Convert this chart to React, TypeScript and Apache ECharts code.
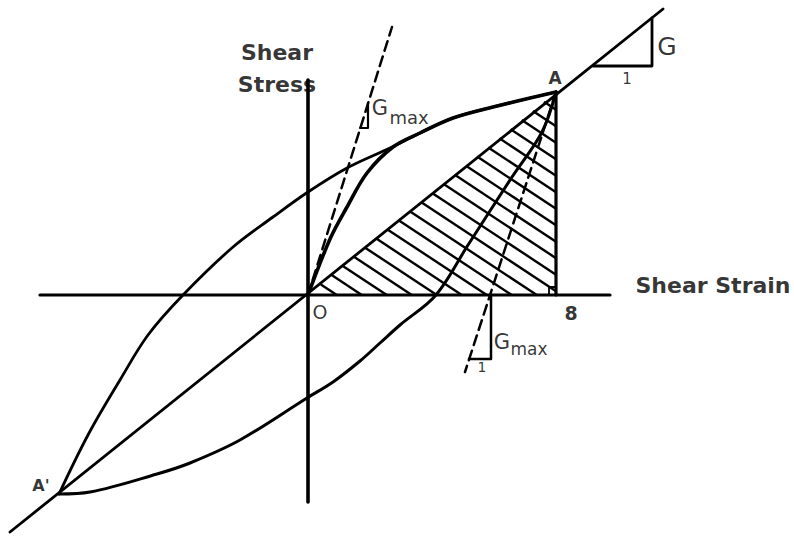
import React, { useEffect, useRef } from "react";
import * as echarts from "echarts";

// ---- data (strain, stress) in drawing units, origin O at (0,0) ----
const origin: number[] = [0, 0];
const pointA: number[] = [248, 203];
const pointA2: number[] = [-249, -199];
const strainAxis: number[][] = [[-268, 0], [302, 0]];
const stressAxis: number[][] = [[0, 215], [0, -207]];
const secantLine: number[][] = [[-298, -237], [355, 286]];
const upperBranch: number[][] = [
  [-249, -199], [-220, -140], [-188, -85], [-160, -40], [-125, 0], [-75, 48],
  [-35, 78], [0, 103], [39, 127], [82, 147], [112, 162], [145, 177], [185, 188], [248, 203],
];
const lowerBranch: number[][] = [
  [248, 203], [234, 163], [204, 118], [160, 50], [128, 0], [92, -30], [72, -48],
  [52, -66], [25, -87], [-1, -103], [-68, -145], [-118, -168], [-151, -179], [-218, -197], [-249, -199],
];
const backbone: number[][] = [
  [0, 0], [22, 56], [39, 88], [59, 122], [85, 148], [112, 162], [145, 177], [185, 188], [248, 203],
];
const gmaxTangentO: number[][] = [[0, 0], [84, 268]];
const gmaxTangentA: number[][] = [[248, 203], [157, -77]];
const gmaxStepO: number[][] = [[52, 167], [60, 167], [60, 192]];
const gmaxStepA: number[][] = [[161, -64], [183, -64], [183, 0]];
const gStep: number[][] = [[285, 229], [344, 229], [344, 277]];
const dropLine: number[][] = [[248, 203], [248, 0]];
const rightAngle: number[][] = [[241, 0], [241, 8], [248, 8]];
const hatchArea: number[][] = [origin, pointA, [248, 0]];

const labelTexts: string[] = [
  "Shear", "Stress", "Shear Strain", "A", "A'", "O", "8", "G", "1", "G", "max", "G", "max", "1",
];
// layout of the annotations (anchor points in drawing units, font sizes, weights)
const labelAnchors: number[][] = [
  [-31, 243], [-31, 211], [405, 10], [247, 217], [-267, -190], [12, -17], [263, -18],
  [359, 249], [319, 216], [72, 187], [101, 178], [194, -47], [221, -54], [174, -72],
];
const labelFontSizes: number[] = [22, 22, 22, 17, 16, 19, 19, 25, 15, 21, 18, 21, 17, 14];
const labelBold: boolean[] = [true, true, true, true, true, false, true, false, false, false, false, false, false, false];

const FONT = "DejaVu Sans";

function lineSeries(data: number[][], width: number, extra: any = {}) {
  return {
    type: "line",
    data,
    showSymbol: false,
    symbol: "none",
    silent: true,
    animation: false,
    lineStyle: { color: "#000", width, cap: "round", join: "round", ...(extra.lineStyle || {}) },
    smooth: extra.smooth || false,
    z: extra.z || 3,
  };
}

function hatchRender(_params: any, api: any) {
  const pts = hatchArea.map((p) => api.coord(p));
  const m = 0.66;
  const step = 16.5;
  const cOf = (p: number[]) => p[1] - m * p[0];
  const cs = pts.map(cOf);
  const cMin = Math.min(...cs);
  const o = api.coord(origin);
  const children: any[] = [];
  for (let c = cOf(o) - 19; c > cMin; c -= step) {
    const hits: number[][] = [];
    for (let i = 0; i < 3; i++) {
      const P = pts[i];
      const Q = pts[(i + 1) % 3];
      const fP = P[1] - m * P[0] - c;
      const fQ = Q[1] - m * Q[0] - c;
      if ((fP <= 0 && fQ >= 0) || (fP >= 0 && fQ <= 0)) {
        if (fP === fQ) continue;
        const t = fP / (fP - fQ);
        hits.push([P[0] + t * (Q[0] - P[0]), P[1] + t * (Q[1] - P[1])]);
      }
    }
    if (hits.length >= 2) {
      hits.sort((a, b) => a[0] - b[0]);
      const a = hits[0];
      const b = hits[hits.length - 1];
      children.push({
        type: "line",
        shape: { x1: a[0], y1: a[1], x2: b[0], y2: b[1] },
        style: { stroke: "#000", lineWidth: 2.4 },
      });
    }
  }
  return { type: "group", children };
}

export default function App() {
  const ref = useRef<HTMLDivElement>(null);
  useEffect(() => {
    if (!ref.current) return;
    const chart = echarts.init(ref.current, undefined, { renderer: "svg" });
    const labelData = labelTexts.map((t, i) => ({
      value: labelAnchors[i],
      label: {
        show: true,
        position: "inside",
        formatter: t,
        color: "#000000",
        textBorderWidth: 0,
        fontFamily: FONT,
        fontSize: labelFontSizes[i],
        fontWeight: labelBold[i] ? "bold" : "normal",
      },
    }));
    chart.setOption({
      animation: false,
      backgroundColor: "#fff",
      grid: { left: 0, right: 0, top: 0, bottom: 0, containLabel: false },
      xAxis: { type: "value", min: -308, max: 486, show: false },
      yAxis: { type: "value", min: -241, max: 295, show: false },
      series: [
        { type: "custom", data: [0], silent: true, renderItem: hatchRender, z: 2, clip: false },
        lineSeries(strainAxis, 3.2),
        lineSeries(stressAxis, 3.6),
        lineSeries(secantLine, 2.8),
        lineSeries(upperBranch, 2.8, { smooth: 0.35 }),
        lineSeries(lowerBranch, 3, { smooth: 0.35 }),
        lineSeries(backbone, 3.6, { smooth: 0.35, z: 4 }),
        lineSeries(gmaxTangentO, 2.5, { lineStyle: { type: [10, 6] } }),
        lineSeries(gmaxTangentA, 2.5, { lineStyle: { type: [10, 6] } }),
        lineSeries(gmaxStepO, 2.2),
        lineSeries(gmaxStepA, 2.5),
        lineSeries(gStep, 2.8),
        lineSeries(dropLine, 3.2),
        lineSeries(rightAngle, 1.8),
        {
          type: "scatter",
          data: labelData,
          symbolSize: 1,
          itemStyle: { color: "rgba(0,0,0,0)" },
          silent: true,
          z: 6,
        },
      ],
    });
    return () => chart.dispose();
  }, []);
  return (
    <div
      ref={ref}
      style={{ position: "absolute", left: 0, top: 0, width: 794, height: 536, background: "#fff" }}
    />
  );
}
